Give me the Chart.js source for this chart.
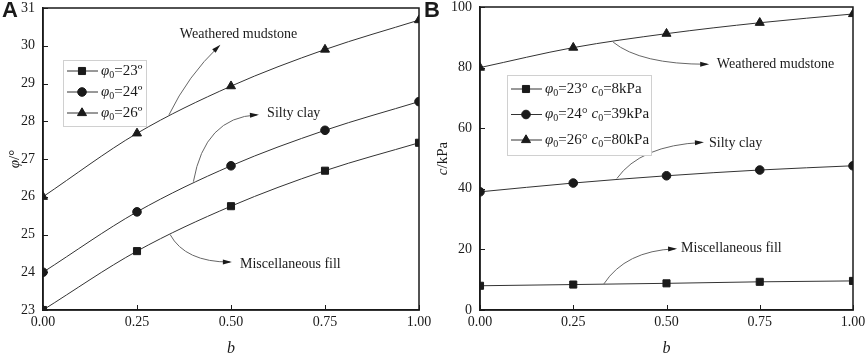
<!DOCTYPE html>
<html>
<head>
<meta charset="utf-8">
<script src="https://cdn.jsdelivr.net/npm/chart.js@4.4.1/dist/chart.umd.min.js"></script>
<style>
  body { margin: 0; background: #fff; }
  #wrapA { position: absolute; left: 0; top: 0; width: 432px; height: 356px; }
  #wrapB { position: absolute; left: 422px; top: 0; width: 443px; height: 356px; }
</style>
</head>
<body>
<div id="wrapA"><canvas id="chartA" width="432" height="356"></canvas></div>
<div id="wrapB"><canvas id="chartB" width="443" height="356"></canvas></div>
<script>
// data
const bValues = [0, 0.25, 0.5, 0.75, 1];

const phiMisc = [23, 24.56, 25.75, 26.69, 27.43];
const phiSilty = [24, 25.6, 26.82, 27.76, 28.52];
const phiWeathered = [26, 27.68, 28.93, 29.9, 30.68];

const cMisc = [8, 8.4, 8.8, 9.3, 9.6];
const cSilty = [39, 41.9, 44.3, 46.2, 47.6];
const cWeathered = [80, 86.6, 91.2, 94.8, 97.7];

const phi0 = ['23', '24', '26'];
const c0 = ['8', '39', '80'];
const markers = ['rect', 'circle', 'triangle'];
const markerSize = [5, 4.3, 5.2];

const ticksA = [23, 31, 1];
const ticksB = [0, 100, 20];

// annotation callouts, in data units: text anchor, curve start, control, end
const notesA = [
    { text: 'Weathered mudstone', at: [0.364, 30.31], from: [0.335, 28.17], ctrl: [0.385, 29.2], to: [0.468, 29.99] },
    { text: 'Silty clay', at: [0.596, 28.22], from: [0.4, 26.4], ctrl: [0.43, 28.1], to: [0.569, 28.17] },
    { text: 'Miscellaneous fill', at: [0.524, 24.22], from: [0.338, 25.0], ctrl: [0.378, 24.27], to: [0.497, 24.27] }
];
const notesB = [
    { text: 'Weathered mudstone', at: [0.635, 81.1], from: [0.357, 88.4], ctrl: [0.43, 81.1], to: [0.609, 81.1] },
    { text: 'Silty clay', at: [0.614, 55.0], from: [0.367, 43.4], ctrl: [0.43, 54.3], to: [0.595, 55.3] },
    { text: 'Miscellaneous fill', at: [0.539, 20.2], from: [0.332, 8.6], ctrl: [0.39, 19.5], to: [0.523, 20.2] }
];

const SERIF = '"Liberation Serif", "Times New Roman", serif';
const INK = '#1a1a1a';

function richText(ctx, x, y, parts) {
    ctx.textBaseline = 'middle';
    ctx.textAlign = 'left';
    parts.forEach(p => {
        const size = p.sub ? 10 : 15;
        ctx.font = (p.italic ? 'italic ' : '') + size + 'px ' + SERIF;
        ctx.fillText(p.t, x, y + (p.sub ? 4 : 0));
        x += ctx.measureText(p.t).width;
    });
    return x;
}

function drawMarker(ctx, style, x, y, r) {
    Chart.helpers.drawPoint(ctx, { pointStyle: style, radius: r, borderWidth: 1 }, x, y);
}

function makeDecor(opts) {
    return {
        id: 'decor' + opts.label,
        afterDatasetsDraw(chart) {
            const { ctx, chartArea: a, scales: { x, y } } = chart;
            ctx.save();
            // frame
            ctx.strokeStyle = INK;
            ctx.lineWidth = 1.5;
            ctx.strokeRect(a.left, a.top, a.right - a.left, a.bottom - a.top);

            // inward tick marks
            ctx.lineWidth = 1;
            ctx.beginPath();
            x.ticks.forEach(t => {
                const px = Math.round(x.getPixelForValue(t.value)) + 0.5;
                ctx.moveTo(px, a.bottom);
                ctx.lineTo(px, a.bottom - 5);
            });
            y.ticks.forEach(t => {
                const py = Math.round(y.getPixelForValue(t.value)) + 0.5;
                ctx.moveTo(a.left, py);
                ctx.lineTo(a.left + 5, py);
            });
            ctx.stroke();

            // callouts
            opts.notes.forEach(n => {
                const sx = x.getPixelForValue(n.from[0]), sy = y.getPixelForValue(n.from[1]);
                const cx = x.getPixelForValue(n.ctrl[0]), cy = y.getPixelForValue(n.ctrl[1]);
                const ex = x.getPixelForValue(n.to[0]), ey = y.getPixelForValue(n.to[1]);
                ctx.strokeStyle = '#666';
                ctx.lineWidth = 1;
                ctx.beginPath();
                ctx.moveTo(sx, sy);
                ctx.quadraticCurveTo(cx, cy, ex, ey);
                ctx.stroke();
                const ang = Math.atan2(ey - cy, ex - cx);
                ctx.fillStyle = INK;
                ctx.beginPath();
                ctx.moveTo(ex + 2 * Math.cos(ang), ey + 2 * Math.sin(ang));
                ctx.lineTo(ex - 7 * Math.cos(ang) - 2.5 * Math.sin(ang), ey - 7 * Math.sin(ang) + 2.5 * Math.cos(ang));
                ctx.lineTo(ex - 7 * Math.cos(ang) + 2.5 * Math.sin(ang), ey - 7 * Math.sin(ang) - 2.5 * Math.cos(ang));
                ctx.closePath();
                ctx.fill();
                ctx.fillStyle = INK;
                ctx.font = '14px ' + SERIF;
                ctx.textBaseline = 'middle';
                ctx.textAlign = 'left';
                ctx.fillText(n.text, x.getPixelForValue(n.at[0]), y.getPixelForValue(n.at[1]));
            });

            // legend
            const L = opts.legend;
            const lx = a.left + L.dx, ly = a.top + L.dy;
            ctx.fillStyle = '#fff';
            ctx.fillRect(lx, ly, L.w, L.h);
            ctx.strokeStyle = '#d0d0d0';
            ctx.lineWidth = 1;
            ctx.strokeRect(lx + 0.5, ly + 0.5, L.w, L.h);
            L.rows.forEach((parts, i) => {
                const ry = ly + L.first + i * L.gap;
                ctx.strokeStyle = '#333';
                ctx.beginPath();
                ctx.moveTo(lx + 4, ry);
                ctx.lineTo(lx + 35, ry);
                ctx.stroke();
                ctx.fillStyle = INK;
                ctx.strokeStyle = INK;
                drawMarker(ctx, markers[i], lx + 19, ry, markerSize[i]);
                ctx.fillStyle = INK;
                richText(ctx, lx + 38, ry, parts);
            });

            // axis titles
            ctx.fillStyle = INK;
            const midY = (a.top + a.bottom) / 2;
            ctx.save();
            ctx.translate(opts.yTitleX, midY);
            ctx.rotate(-Math.PI / 2);
            let w = 0;
            opts.yTitle.forEach(p => {
                ctx.font = (p.italic ? 'italic ' : '') + '15px ' + SERIF;
                w += ctx.measureText(p.t).width;
            });
            richText(ctx, -w / 2, 0, opts.yTitle);
            ctx.restore();
            ctx.font = 'italic 16px ' + SERIF;
            ctx.textAlign = 'center';
            ctx.textBaseline = 'middle';
            ctx.fillText('b', (a.left + a.right) / 2, 349);

            // panel letter
            ctx.font = 'bold 22px "Liberation Sans", Arial, sans-serif';
            ctx.textAlign = 'left';
            ctx.textBaseline = 'top';
            ctx.fillText(opts.label, opts.labelX, 0);
            ctx.restore();
        }
    };
}

function makeDataset(values, i) {
    return {
        label: 'series' + i,
        data: values,
        borderColor: '#333',
        borderWidth: 1,
        backgroundColor: INK,
        pointBackgroundColor: INK,
        pointBorderColor: INK,
        pointStyle: markers[i],
        pointRadius: markerSize[i],
        pointBorderWidth: 1,
        cubicInterpolationMode: 'monotone',
        clip: 0
    };
}

function makeChart(id, series, yTicks, axisW, pad, decor) {
    const tickFont = { family: SERIF, size: 14 };
    return new Chart(document.getElementById(id), {
        type: 'line',
        data: {
            labels: bValues,
            datasets: series.map((s, i) => makeDataset(s, i))
        },
        options: {
            responsive: false,
            animation: false,
            layout: { padding: pad },
            plugins: { legend: { display: false }, tooltip: { enabled: false } },
            scales: {
                x: {
                    type: 'linear',
                    min: 0, max: 1,
                    afterFit(s) { s.height = 356 - 310; s.paddingLeft = 0; s.paddingRight = 0; },
                    afterBuildTicks(s) { s.ticks = bValues.map(v => ({ value: v })); },
                    ticks: { font: tickFont, color: INK, padding: 4, maxRotation: 0,
                        callback: v => v.toFixed(2) },
                    grid: { drawOnChartArea: false, drawTicks: false },
                    border: { display: true, color: INK, width: 1.5 }
                },
                y: {
                    min: yTicks[0], max: yTicks[1],
                    afterFit(s) { s.width = axisW; s.paddingTop = 0; s.paddingBottom = 0; },
                    ticks: { stepSize: yTicks[2], font: tickFont, color: INK, padding: 8 },
                    grid: { drawOnChartArea: false, drawTicks: false },
                    border: { display: true, color: INK, width: 1.5 }
                }
            }
        },
        plugins: [decor]
    });
}

const legendRowsA = phi0.map(v => [
    { t: 'φ', italic: true }, { t: '0', sub: true }, { t: '=' + v + 'º' }
]);
const legendRowsB = phi0.map((v, i) => [
    { t: 'φ', italic: true }, { t: '0', sub: true }, { t: '=' + v + '° ' },
    { t: 'c', italic: true }, { t: '0', sub: true }, { t: '=' + c0[i] + 'kPa' }
]);

makeChart('chartA', [phiMisc, phiSilty, phiWeathered], ticksA, 43,
    { top: 8, right: 13, left: 0, bottom: 0 },
    makeDecor({
        label: 'A', labelX: 2, notes: notesA, yTitleX: 15,
        yTitle: [{ t: 'φ', italic: true }, { t: '/°' }],
        legend: { dx: 20, dy: 52, w: 83, h: 66, first: 11, gap: 21, rows: legendRowsA }
    }));

makeChart('chartB', [cMisc, cSilty, cWeathered], ticksB, 58,
    { top: 7, right: 12, left: 0, bottom: 0 },
    makeDecor({
        label: 'B', labelX: 2, notes: notesB, yTitleX: 21,
        yTitle: [{ t: 'c', italic: true }, { t: '/kPa' }],
        legend: { dx: 27, dy: 68, w: 144, h: 80, first: 14, gap: 25.5, rows: legendRowsB }
    }));
</script>
</body>
</html>
